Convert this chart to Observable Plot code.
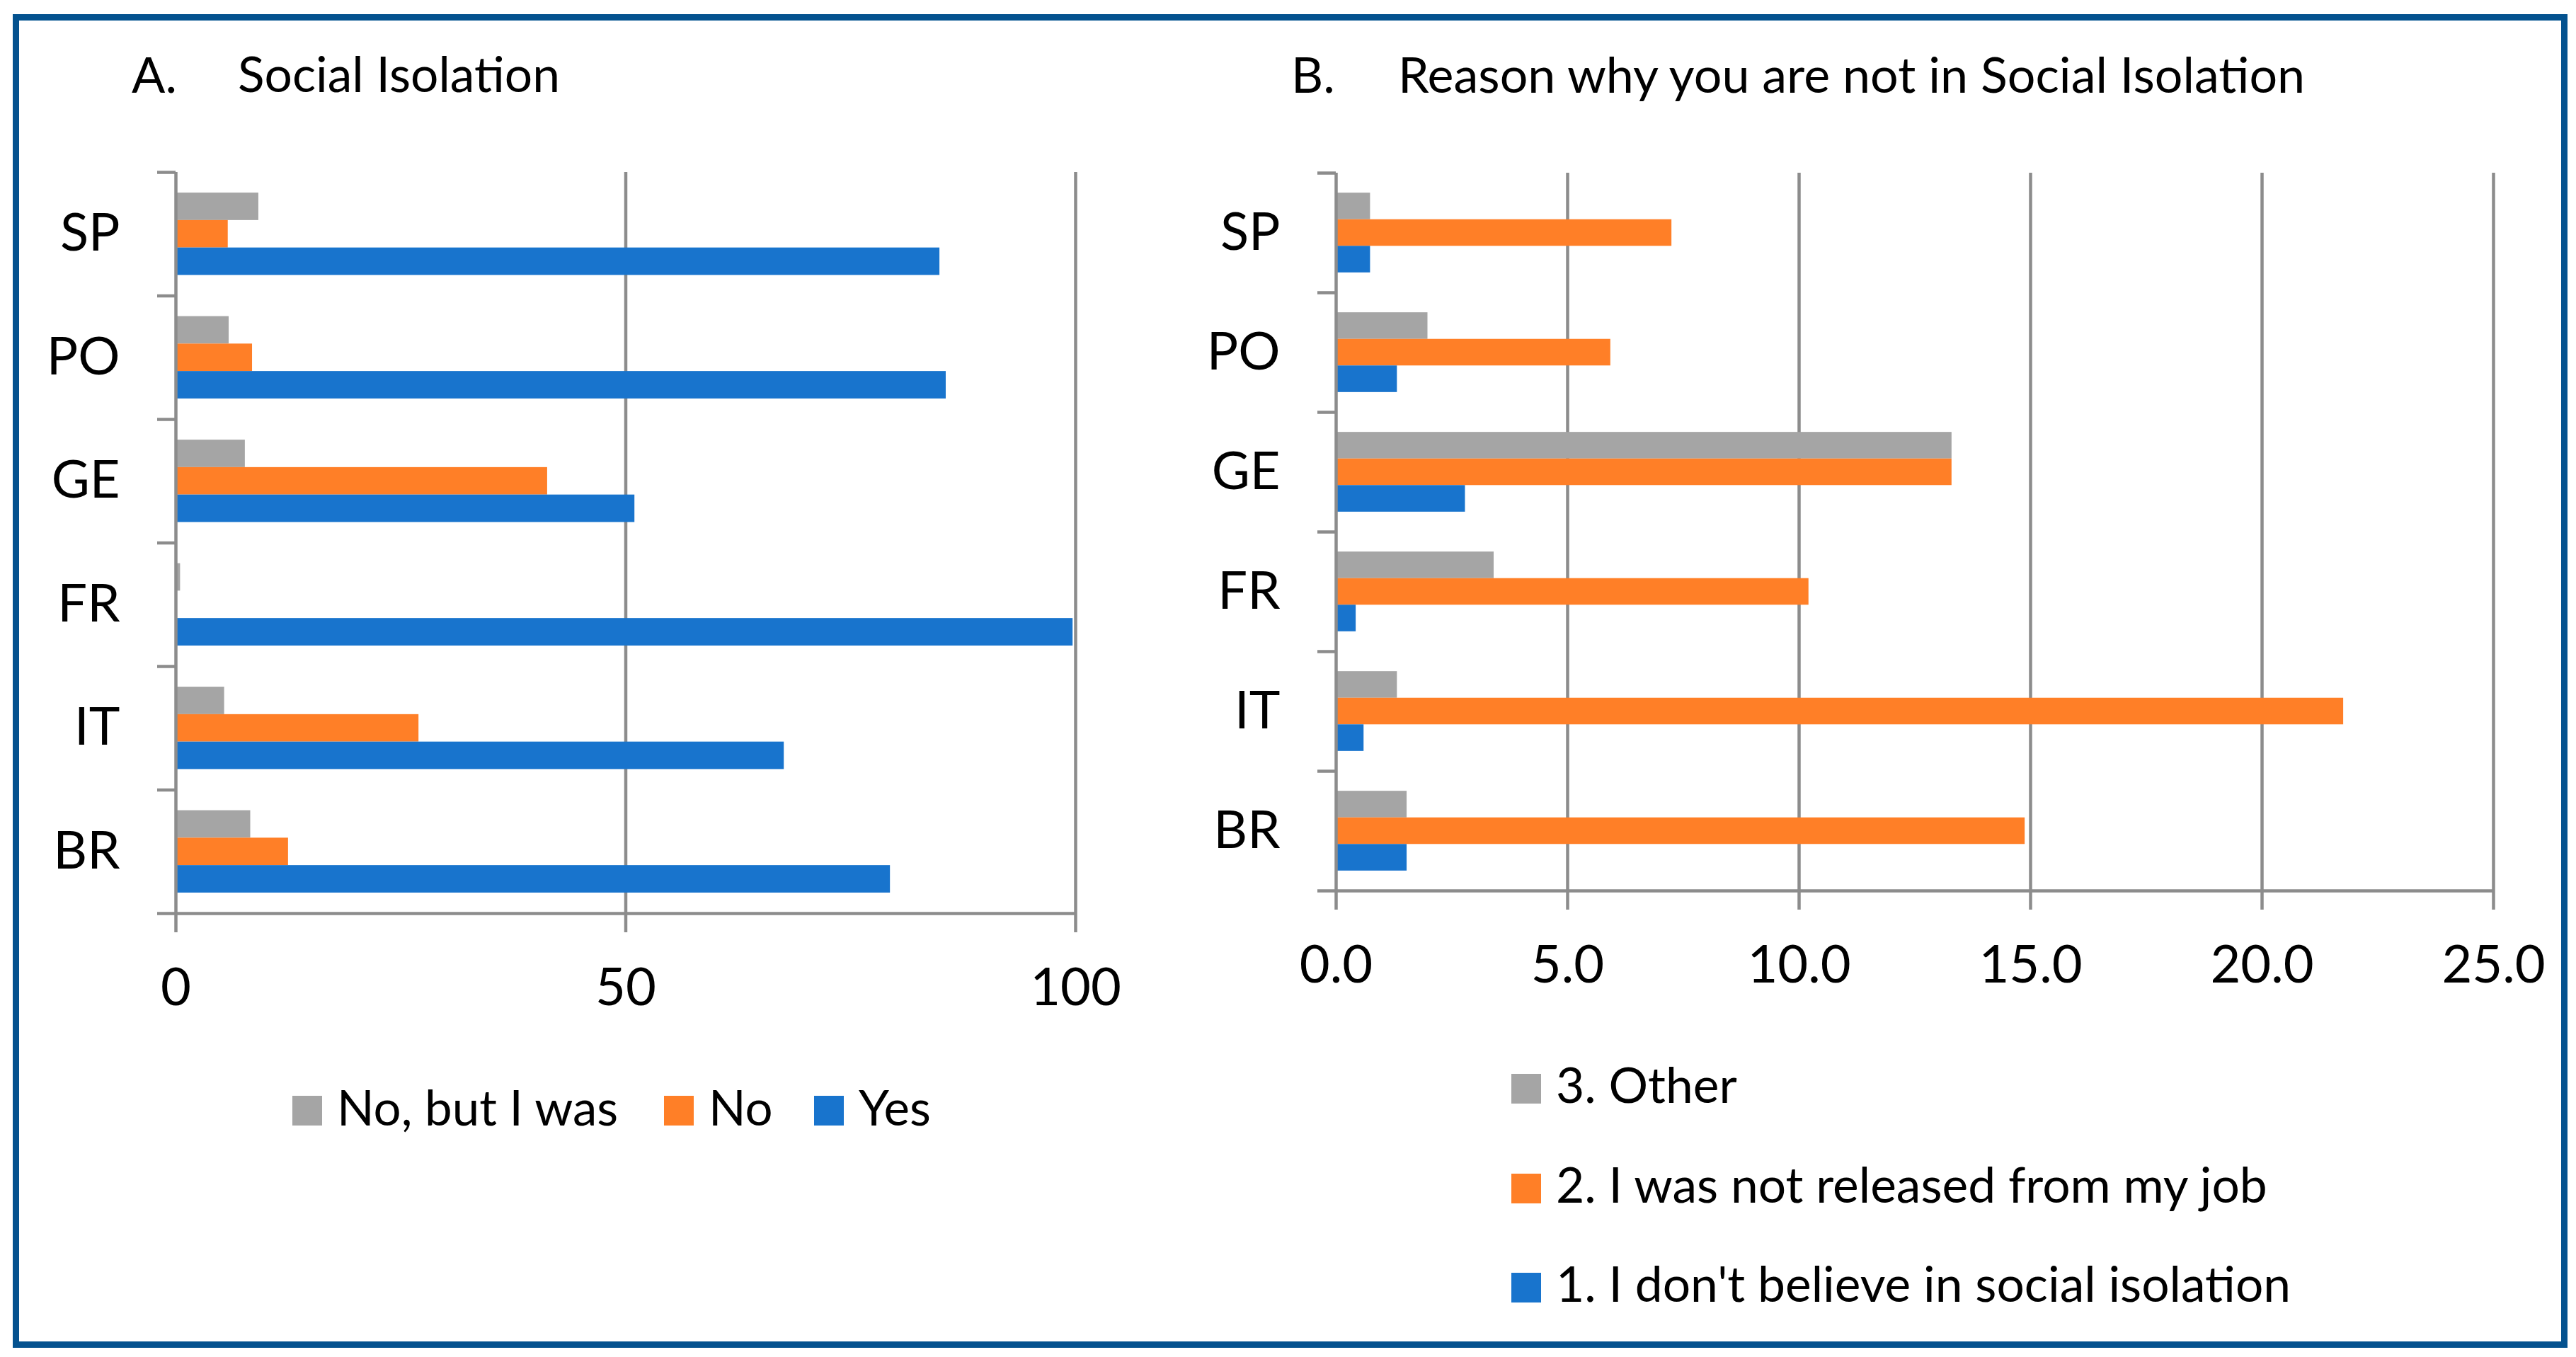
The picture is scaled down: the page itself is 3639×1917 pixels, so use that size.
<!DOCTYPE html>
<html>
<head>
<meta charset="utf-8">
<script src="https://cdn.jsdelivr.net/npm/d3@7"></script>
<script src="https://cdn.jsdelivr.net/npm/@observablehq/plot@0.6"></script>
<style>
  html, body { margin: 0; padding: 0; background: #fff; }
  #page { position: relative; width: 3639px; height: 1917px; background: #fff; overflow: hidden; font-family: Lato, "Open Sans", sans-serif; color: #000; }
  .abs { position: absolute; }
  .txt { position: absolute; line-height: 1; white-space: nowrap; font-size: 70px; }
  .sw { position: absolute; width: 42px; height: 42px; }
  #border { position: absolute; left: 18px; top: 20px; width: 3609px; height: 1884px; box-sizing: border-box; border: 9px solid #04528F; pointer-events: none; z-index: 10; }
</style>
</head>
<body>
<div id="page"></div>
<script>
// ---------- data ----------
const countries = ["SP", "PO", "GE", "FR", "IT", "BR"]; // top to bottom

// Panel A: Social Isolation (%)
const seriesA = ["No, but I was", "No", "Yes"];
const colorsA = ["#A5A5A5", "#FF7F27", "#1874CD"];
const aNoButIWas = [9.2, 5.9, 7.7, 0.5, 5.4, 8.3];
const aNo        = [5.8, 8.5, 41.3, 0.0, 27.0, 12.5];
const aYes       = [84.9, 85.6, 51.0, 99.7, 67.6, 79.4];
const ticksA = [0, 50, 100];

// Panel B: Reason why you are not in Social Isolation (%)
const seriesB = ["3. Other", "2. I was not released from my job", "1. I don't believe in social isolation"];
const colorsB = ["#A5A5A5", "#FF7F27", "#1874CD"];
const bOther  = [0.74, 1.98, 13.3, 3.41, 1.32, 1.53];
const bJob    = [7.25, 5.93, 13.3, 10.21, 21.76, 14.88];
const bDont   = [0.74, 1.32, 2.79, 0.43, 0.60, 1.53];
const ticksB = [0, 5, 10, 15, 20, 25];

// ---------- helpers ----------
const gray = "#8C8C8C";
const page = document.getElementById("page");

function rowsOf(series, values) {
  return countries.flatMap((c, i) => series.map((s, j) => ({country: c, i, s, j, value: values[j][i]})));
}

function panel({series, colors, values, ticks, fmt, width, height, mt, mr, mb, ml, left}) {
  const rows = rowsOf(series, values);
  const n = countries.length;
  const bar = 2 / 9, off = 1 / 6; // Excel gap width 50%
  const svg = Plot.plot({
    width, height,
    marginTop: mt, marginRight: mr, marginBottom: mb, marginLeft: ml,
    style: {background: "none", fontFamily: "Lato, 'Open Sans', sans-serif", color: "#000", overflow: "visible"},
    x: {domain: [0, ticks[ticks.length - 1]], axis: null},
    y: {domain: [n, 0], axis: null},
    color: {domain: series, range: colors},
    marks: [
      Plot.gridX({ticks: ticks.slice(1), stroke: gray, strokeOpacity: 1, strokeWidth: 4.5}),
      Plot.rect(rows, {
        x1: () => 0, x2: "value",
        y1: d => d.i + off + d.j * bar,
        y2: d => d.i + off + (d.j + 1) * bar,
        fill: "s"
      }),
      Plot.ruleX([0], {stroke: gray, strokeWidth: 4.5}),
      Plot.ruleY([n], {stroke: gray, strokeWidth: 4.5}),
      Plot.axisY({ticks: d3.range(n + 1), tickSize: 26, tickFormat: () => "", stroke: gray, strokeWidth: 4.5, label: null}),
      Plot.axisY({ticks: d3.range(n).map(i => i + 0.5), tickSize: 0, tickPadding: 79,
        tickFormat: v => countries[Math.floor(v)], fontSize: 74, fill: "#000", label: null}),
      Plot.axisX({ticks, tickSize: 27, tickPadding: 50, tickFormat: fmt, stroke: gray, strokeWidth: 4.5,
        fontSize: 74, fill: "#000", label: null})
    ]
  });
  svg.classList.add("abs");
  svg.style.left = left + "px";
  svg.style.top = "0px";
  page.appendChild(svg);
}

panel({series: seriesA, colors: colorsA, values: [aNoButIWas, aNo, aYes], ticks: ticksA, fmt: d3.format("d"),
  width: 1700, height: 1500, mt: 243, mr: 1700 - 1519, mb: 1500 - 1290, ml: 248, left: 0});
panel({series: seriesB, colors: colorsB, values: [bOther, bJob, bDont], ticks: ticksB, fmt: d3.format(".1f"),
  width: 1989, height: 1500, mt: 244, mr: 1989 - 1872, mb: 1500 - 1258, ml: 237, left: 1650});

function text(str, x, baseline, size = 70) {
  const d = document.createElement("div");
  d.className = "txt";
  d.style.fontSize = size + "px";
  d.style.left = x + "px";
  d.style.top = (baseline - 0.887 * size) + "px";
  d.textContent = str;
  page.appendChild(d);
}
function swatch(color, x, y) {
  const d = document.createElement("div");
  d.className = "sw";
  d.style.left = x + "px";
  d.style.top = y + "px";
  d.style.background = color;
  page.appendChild(d);
}

// titles
text("A.", 186, 131);
text("Social Isolation", 336, 131, 69.5);
text("B.", 1824, 131);
text("Reason why you are not in Social Isolation", 1975, 131);

// legend A (horizontal)
const legAx = [413, 938, 1150];
seriesA.forEach((s, j) => { swatch(colorsA[j], legAx[j], 1548); text(s, legAx[j] + 63, 1590, 69); });

// legend B (vertical)
const legBy = [1517, 1658, 1798];
seriesB.forEach((s, j) => { swatch(colorsB[j], 2135, legBy[j]); text(s, 2198, legBy[j] + 42, 69.5); });

const b = document.createElement("div");
b.id = "border";
page.appendChild(b);
</script>
</body>
</html>
